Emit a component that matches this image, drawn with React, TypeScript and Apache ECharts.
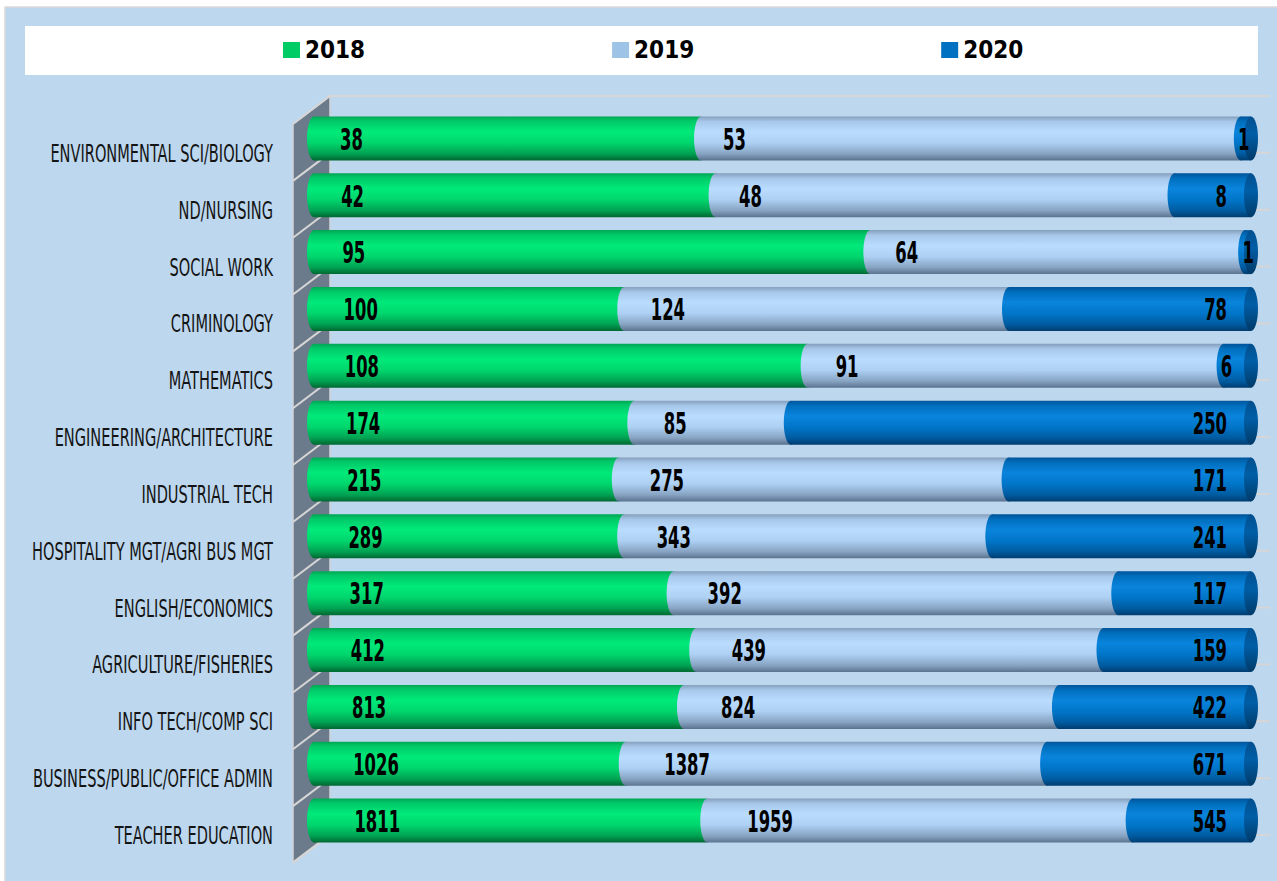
import React, { useEffect, useRef } from "react";
import * as echarts from "echarts";

const categories = [
  "ENVIRONMENTAL SCI/BIOLOGY",
  "ND/NURSING",
  "SOCIAL WORK",
  "CRIMINOLOGY",
  "MATHEMATICS",
  "ENGINEERING/ARCHITECTURE",
  "INDUSTRIAL TECH",
  "HOSPITALITY MGT/AGRI BUS MGT",
  "ENGLISH/ECONOMICS",
  "AGRICULTURE/FISHERIES",
  "INFO TECH/COMP SCI",
  "BUSINESS/PUBLIC/OFFICE ADMIN",
  "TEACHER EDUCATION",
];
const years = ["2018", "2019", "2020"];
const v2018 = [38, 42, 95, 100, 108, 174, 215, 289, 317, 412, 813, 1026, 1811];
const v2019 = [53, 48, 64, 124, 91, 85, 275, 343, 392, 439, 824, 1387, 1959];
const v2020 = [1, 8, 1, 78, 6, 250, 171, 241, 117, 159, 422, 671, 545];

const legendColors = ["#00cc66", "#9dc3e6", "#0070c0"];
const FONT = "'DejaVu Sans Condensed', 'Liberation Sans Narrow', sans-serif";

const grad = (stops: [number, string][]) =>
  new echarts.graphic.LinearGradient(
    0, 0, 0, 1,
    stops.map(([offset, color]) => ({ offset, color }))
  );

const bodyGrads = [
  grad([[0, "#00a653"], [0.1, "#00c868"], [0.35, "#00ea7a"], [0.6, "#00d66d"], [0.85, "#00a152"], [1, "#006831"]]),
  grad([[0, "#859fbd"], [0.12, "#a8c8ea"], [0.35, "#b9dcff"], [0.6, "#add0f3"], [0.85, "#87a3c2"], [1, "#5a728e"]]),
  grad([[0, "#00549a"], [0.12, "#006fbe"], [0.35, "#0a84dc"], [0.6, "#0076c9"], [0.85, "#005ba0"], [1, "#003d70"]]),
];
const capGrad = grad([[0, "#004f8e"], [0.4, "#005ea6"], [1, "#003a68"]]);

export default function App() {
  const ref = useRef<HTMLDivElement>(null);

  useEffect(() => {
    if (!ref.current) return;
    const chart = echarts.init(ref.current, undefined, { renderer: "svg" });

    const seriesValues = [v2018, v2019, v2020];
    const totals = categories.map((_, i) => v2018[i] + v2019[i] + v2020[i]);

    const BAR_H = 44;
    const RX = 7;

    const barSeries = years.map((year, k) => {
      const data = categories.map((_, i) => {
        let s = 0;
        for (let j = 0; j < k; j++) s += seriesValues[j][i];
        const v = seriesValues[k][i];
        return [(s / totals[i]) * 100, ((s + v) / totals[i]) * 100, i, v];
      });
      return {
        type: "custom",
        name: year,
        itemStyle: { color: legendColors[k] },
        encode: { x: [0, 1], y: 2 },
        data,
        z: 3 + k,
        renderItem: (params: any, api: any) => {
          const start = api.coord([api.value(0), api.value(2)]);
          const end = api.coord([api.value(1), api.value(2)]);
          const x0 = start[0];
          const x1 = end[0];
          const cy = start[1];
          const i = api.value(2);
          const val = api.value(3);
          const children: any[] = [
            {
              type: "rect",
              shape: { x: x0, y: cy - BAR_H / 2, width: Math.max(0, x1 - x0), height: BAR_H },
              style: { fill: bodyGrads[k] },
            },
            {
              type: "ellipse",
              shape: { cx: x0, cy, rx: RX, ry: BAR_H / 2 },
              style: { fill: bodyGrads[k] },
            },
          ];
          if (k === 2) {
            children.push({
              type: "ellipse",
              shape: { cx: x1, cy, rx: RX, ry: BAR_H / 2 },
              style: { fill: capGrad },
            });
          }
          let tx = x0 + 26 + i * 1.2;
          let align = "left";
          if (k === 1) {
            tx = x0 + 22 + i * 1.5;
          } else if (k === 2) {
            if (x1 - x0 >= 40) {
              tx = x1 - 24;
              align = "right";
            } else {
              tx = x0 + 3;
              align = "center";
            }
          }
          children.push({
            type: "text",
            x: tx,
            y: cy + 1,
            scaleX: 0.76,
            scaleY: 1.25,
            z2: 20,
            style: {
              text: String(val),
              x: 0,
              y: 0,
              fill: "#000000",
              fontSize: 24,
              fontWeight: "bold",
              fontFamily: FONT,
              align,
              verticalAlign: "middle",
            },
          });
          return { type: "group", children };
        },
      };
    });

    const frameSeries = {
      type: "custom",
      name: "frame",
      encode: { x: 0, y: 1 },
      data: categories.map((_, i) => [0, i]),
      z: 1,
      silent: true,
      renderItem: (params: any, api: any) => {
        const c = api.coord([0, api.value(1)]);
        const band = api.size([0, 1])[1];
        const i = api.value(1);
        const children: any[] = [];
        const lineAt = (b: number) => ({
          type: "polyline",
          shape: { points: [[293, b + 14], [330, b - 14], [1270, b - 14]] },
          style: { stroke: "#d6d6d6", lineWidth: 2, fill: null },
        });
        if (i === 0) children.push(lineAt(c[1] - band / 2));
        children.push(lineAt(c[1] + band / 2));
        children.push({
          type: "text",
          x: 273,
          y: c[1] + 14.5,
          scaleX: 0.9,
          scaleY: 1.4,
          style: {
            text: categories[i],
            x: 0,
            y: 0,
            fill: "#141414",
            fontSize: 18,
            fontFamily: FONT,
            align: "right",
            verticalAlign: "middle",
          },
        });
        return { type: "group", children };
      },
    };

    chart.setOption({
      animation: false,
      backgroundColor: "#ffffff",
      graphic: [
        {
          type: "rect",
          z: -10,
          shape: { x: 5, y: 7, width: 1275, height: 878 },
          style: { fill: "#bdd7ee", stroke: "#d9d9d9", lineWidth: 1.5 },
        },
        {
          type: "rect",
          z: -9,
          shape: { x: 25, y: 26, width: 1233, height: 49 },
          style: { fill: "#ffffff" },
        },
        {
          type: "polygon",
          z: -8,
          shape: { points: [[293, 124], [330, 96], [330, 834], [293, 862]] },
          style: { fill: "#6c7b8b", stroke: "#cfd3d7", lineWidth: 1.5 },
        },
      ],
      legend: {
        data: years,
        left: 283,
        top: 38,
        padding: 0,
        itemWidth: 17,
        itemHeight: 16,
        itemGap: 247,
        icon: "rect",
        selectedMode: false,
        textStyle: {
          fontSize: 24,
          fontWeight: "bold",
          fontFamily: FONT,
          color: "#000000",
        },
      },
      grid: { left: 314, right: 26, top: 110, bottom: 32, containLabel: false },
      xAxis: {
        type: "value",
        min: 0,
        max: 100,
        show: false,
      },
      yAxis: {
        type: "category",
        data: categories,
        inverse: true,
        axisLine: { show: false },
        axisTick: { show: false },
        axisLabel: { show: false },
        splitLine: { show: false },
      },
      series: [frameSeries, ...barSeries],
    });

    return () => chart.dispose();
  }, []);

  return (
    <div
      ref={ref}
      style={{ position: "absolute", left: 0, top: 0, width: 1277, height: 881 }}
    />
  );
}
